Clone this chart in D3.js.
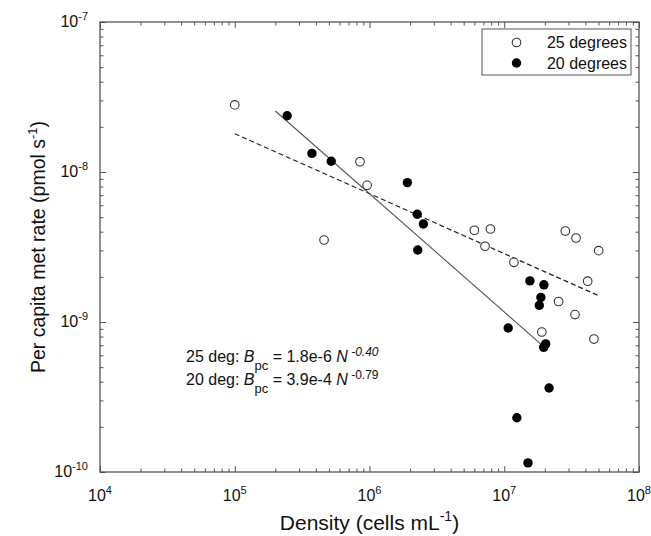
<!DOCTYPE html>
<html><head><meta charset="utf-8">
<script src="https://cdn.jsdelivr.net/npm/d3@7"></script>
<style>
html,body{margin:0;padding:0;background:#fff;}
svg text{font-family:"Liberation Sans",Arial,Helvetica,sans-serif;fill:#111;}
</style></head>
<body><svg id="chart" width="651" height="536"></svg>
<script>
// ---- data ----
const deg25Density = [1.0e5, 4.6e5, 8.5e5, 9.6e5, 6.0e6, 7.9e6, 7.2e6, 1.18e7, 2.84e7, 3.41e7, 5.02e7, 4.16e7, 2.53e7, 3.35e7, 1.9e7, 4.63e7];
const deg25Rate    = [2.8e-8, 3.52e-9, 1.17e-8, 8.15e-9, 4.09e-9, 4.17e-9, 3.2e-9, 2.5e-9, 4.04e-9, 3.63e-9, 2.99e-9, 1.87e-9, 1.37e-9, 1.12e-9, 8.58e-10, 7.7e-10];
const deg20Density = [2.45e5, 3.74e5, 5.2e5, 1.91e6, 2.26e6, 2.51e6, 2.28e6, 1.55e7, 1.97e7, 1.87e7, 1.82e7, 1.07e7, 2.03e7, 1.96e7, 2.15e7, 1.24e7, 1.5e7];
const deg20Rate    = [2.37e-8, 1.33e-8, 1.18e-8, 8.5e-9, 5.23e-9, 4.5e-9, 3.02e-9, 1.88e-9, 1.77e-9, 1.46e-9, 1.29e-9, 9.12e-10, 7.14e-10, 6.78e-10, 3.63e-10, 2.3e-10, 1.15e-10];
const fit25Density = [1e5, 5e7];
const fit25Rate    = [1.8e-8, 1.5e-9];
const fit20Density = [2e5, 2.1e7];
const fit20Rate    = [2.55e-8, 6.5e-10];
const xMajorTicks = [1e4, 1e5, 1e6, 1e7, 1e8];
const xTickExp    = ["4", "5", "6", "7", "8"];
const yMajorTicks = [1e-10, 1e-9, 1e-8, 1e-7];
const yTickExp    = ["-10", "-9", "-8", "-7"];
const legendLabels = ["25 degrees", "20 degrees"];

// ---- layout ----
const L = 100, R = 639, T = 22, B = 472;
const svg = d3.select("#chart");
const x = d3.scaleLog().domain([1e4, 1e8]).range([L, R]);
const y = d3.scaleLog().domain([1e-10, 1e-7]).range([B, T]);
const axisColor = "#555";

const minorX = x.ticks().filter(v => !xMajorTicks.some(m => Math.abs(m - v) / m < 1e-9));
const minorY = y.ticks().filter(v => !yMajorTicks.some(m => Math.abs(m - v) / m < 1e-9));

function drawAxis(gen, tx, ty, vals, size) {
  const g = svg.append("g").attr("transform", `translate(${tx},${ty})`)
    .call(gen.tickValues(vals).tickSize(size).tickFormat(""));
  g.select(".domain").remove();
  g.selectAll(".tick line").attr("stroke", axisColor).attr("stroke-width", 1);
}
// inward ticks on all four sides
drawAxis(d3.axisBottom(x), 0, B, xMajorTicks, -6);
drawAxis(d3.axisBottom(x), 0, B, minorX, -3.5);
drawAxis(d3.axisTop(x), 0, T, xMajorTicks, -6);
drawAxis(d3.axisTop(x), 0, T, minorX, -3.5);
drawAxis(d3.axisLeft(y), L, 0, yMajorTicks, -6);
drawAxis(d3.axisLeft(y), L, 0, minorY, -3.5);
drawAxis(d3.axisRight(y), R, 0, yMajorTicks, -6);
drawAxis(d3.axisRight(y), R, 0, minorY, -3.5);

svg.append("rect").attr("x", L).attr("y", T).attr("width", R - L).attr("height", B - T)
  .attr("fill", "none").attr("stroke", axisColor).attr("stroke-width", 1.3);

// tick labels
xMajorTicks.forEach((v, i) => {
  const t = svg.append("text").attr("x", x(v)).attr("y", 501).attr("text-anchor", "middle").attr("font-size", 16);
  t.append("tspan").text("10");
  t.append("tspan").attr("dy", -7).attr("font-size", 11).text(xTickExp[i]);
});
yMajorTicks.forEach((v, i) => {
  const t = svg.append("text").attr("x", 88).attr("y", y(v) + 5).attr("text-anchor", "end").attr("font-size", 16);
  t.append("tspan").text("10");
  t.append("tspan").attr("dy", -7).attr("font-size", 11).text(yTickExp[i]);
});

// axis titles
const xt = svg.append("text").attr("x", (L + R) / 2).attr("y", 530).attr("text-anchor", "middle").attr("font-size", 21);
xt.append("tspan").text("Density (cells mL");
xt.append("tspan").attr("dy", -9).attr("font-size", 14).text("-1");
xt.append("tspan").attr("dy", 9).text(")");

const yt = svg.append("text").attr("transform", `translate(45,${(T + B) / 2}) rotate(-90)`)
  .attr("text-anchor", "middle").attr("font-size", 19.5);
yt.append("tspan").text("Per capita met rate (pmol s");
yt.append("tspan").attr("dy", -8).attr("font-size", 13).text("-1");
yt.append("tspan").attr("dy", 8).text(")");

// fit lines
const line = d3.line().x(d => x(d[0])).y(d => y(d[1]));
svg.append("path").datum(fit25Density.map((d, i) => [d, fit25Rate[i]]))
  .attr("d", line).attr("fill", "none").attr("stroke", "#222").attr("stroke-width", 1.2)
  .attr("stroke-dasharray", "5,3");
svg.append("path").datum(fit20Density.map((d, i) => [d, fit20Rate[i]]))
  .attr("d", line).attr("fill", "none").attr("stroke", "#555").attr("stroke-width", 1.1);

// points
svg.append("g").selectAll("circle").data(deg25Density.map((d, i) => [d, deg25Rate[i]]))
  .join("circle").attr("cx", d => x(d[0])).attr("cy", d => y(d[1])).attr("r", 4.3)
  .attr("fill", "#fff").attr("stroke", "#333").attr("stroke-width", 1.1);
svg.append("g").selectAll("circle").data(deg20Density.map((d, i) => [d, deg20Rate[i]]))
  .join("circle").attr("cx", d => x(d[0])).attr("cy", d => y(d[1])).attr("r", 4.7)
  .attr("fill", "#000");

// legend
svg.append("rect").attr("x", 482).attr("y", 29).attr("width", 149).attr("height", 46)
  .attr("fill", "#fff").attr("stroke", axisColor).attr("stroke-width", 1);
svg.append("circle").attr("cx", 516.5).attr("cy", 42.5).attr("r", 4.3).attr("fill", "#fff").attr("stroke", "#333").attr("stroke-width", 1.1);
svg.append("circle").attr("cx", 516.5).attr("cy", 63).attr("r", 4.7).attr("fill", "#000");
legendLabels.forEach((s, i) => {
  svg.append("text").attr("x", 627).attr("y", 48 + i * 20.5).attr("text-anchor", "end").attr("font-size", 16).text(s);
});

// equations
function eq(yPos, prefix, coef, expo, italicExp) {
  const t = svg.append("text").attr("x", 186).attr("y", yPos).attr("font-size", 16);
  t.append("tspan").text(prefix + " ");
  t.append("tspan").attr("font-style", "italic").text("B");
  t.append("tspan").attr("dy", 8).attr("font-size", 13).text("pc");
  t.append("tspan").attr("dy", -8).text(" = " + coef + " ");
  t.append("tspan").attr("font-style", "italic").text("N");
  t.append("tspan").attr("dy", -6).attr("font-size", 12).attr("font-style", italicExp ? "italic" : "normal").text(" " + expo);
}
eq(362, "25 deg:", "1.8e-6", "-0.40", true);
eq(385, "20 deg:", "3.9e-4", "-0.79", false);
</script></body></html>
